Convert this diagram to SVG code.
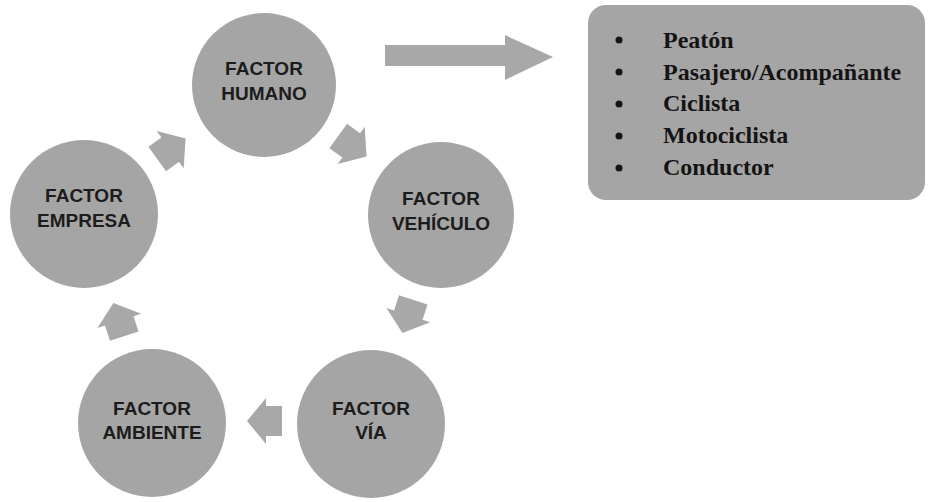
<svg xmlns="http://www.w3.org/2000/svg" width="931" height="502" viewBox="0 0 931 502">
  <style>
    .node { fill: #a5a5a5; }
    .lbl { font-family: "Liberation Sans", Arial, sans-serif; font-weight: bold; font-size: 19px; fill: #1c1c1c; text-anchor: middle; }
    .item { font-family: "Liberation Serif", "Times New Roman", serif; font-weight: bold; font-size: 24px; fill: #141414; }
    .arrow { fill: #a8a8a8; }
    .bullet { fill: #141414; }
  </style>
  <defs>
    <path id="sa" d="M-17,-15 L-1,-15 L-1,-23 L18,0 L-1,23 L-1,15 L-17,15 Z"/>
  </defs>
  <rect width="931" height="502" fill="#ffffff"/>

  <g id="connectors">
    <use href="#sa" class="arrow" transform="translate(352,146) rotate(36)"/>
    <use href="#sa" class="arrow" transform="translate(408,316) rotate(108)"/>
    <use href="#sa" class="arrow" transform="translate(265,421) rotate(180)"/>
    <use href="#sa" class="arrow" transform="translate(119,320) rotate(252)"/>
    <use href="#sa" class="arrow" transform="translate(171,149) rotate(324)"/>
    <path id="big-arrow" class="arrow" d="M385,45 L505,45 L505,35 L553,57 L505,80 L505,66 L385,66 Z"/>
  </g>

  <g id="humano">
    <circle class="node" cx="264" cy="85" r="72"/>
    <text class="lbl" x="264" y="75">FACTOR</text>
    <text class="lbl" x="264" y="100">HUMANO</text>
  </g>
  <g id="vehiculo">
    <circle class="node" cx="441" cy="215" r="73"/>
    <text class="lbl" x="441" y="205">FACTOR</text>
    <text class="lbl" x="441" y="230">VEHÍCULO</text>
  </g>
  <g id="via">
    <circle class="node" cx="371" cy="424" r="74"/>
    <text class="lbl" x="371" y="415">FACTOR</text>
    <text class="lbl" x="371" y="439">VÍA</text>
  </g>
  <g id="ambiente">
    <circle class="node" cx="152" cy="423" r="74"/>
    <text class="lbl" x="152" y="415">FACTOR</text>
    <text class="lbl" x="152" y="439">AMBIENTE</text>
  </g>
  <g id="empresa">
    <circle class="node" cx="84" cy="214" r="74"/>
    <text class="lbl" x="84" y="202">FACTOR</text>
    <text class="lbl" x="84" y="227">EMPRESA</text>
  </g>

  <g id="tipos">
    <rect x="588" y="5" width="337" height="195" rx="18" ry="18" class="node"/>
    <circle class="bullet" cx="619" cy="40" r="3.5"/>
    <circle class="bullet" cx="619" cy="72" r="3.5"/>
    <circle class="bullet" cx="619" cy="104" r="3.5"/>
    <circle class="bullet" cx="619" cy="136" r="3.5"/>
    <circle class="bullet" cx="619" cy="168" r="3.5"/>
    <text class="item" x="663" y="48">Peatón</text>
    <text class="item" x="663" y="80">Pasajero/Acompañante</text>
    <text class="item" x="663" y="111">Ciclista</text>
    <text class="item" x="663" y="143">Motociclista</text>
    <text class="item" x="663" y="175">Conductor</text>
  </g>
</svg>
